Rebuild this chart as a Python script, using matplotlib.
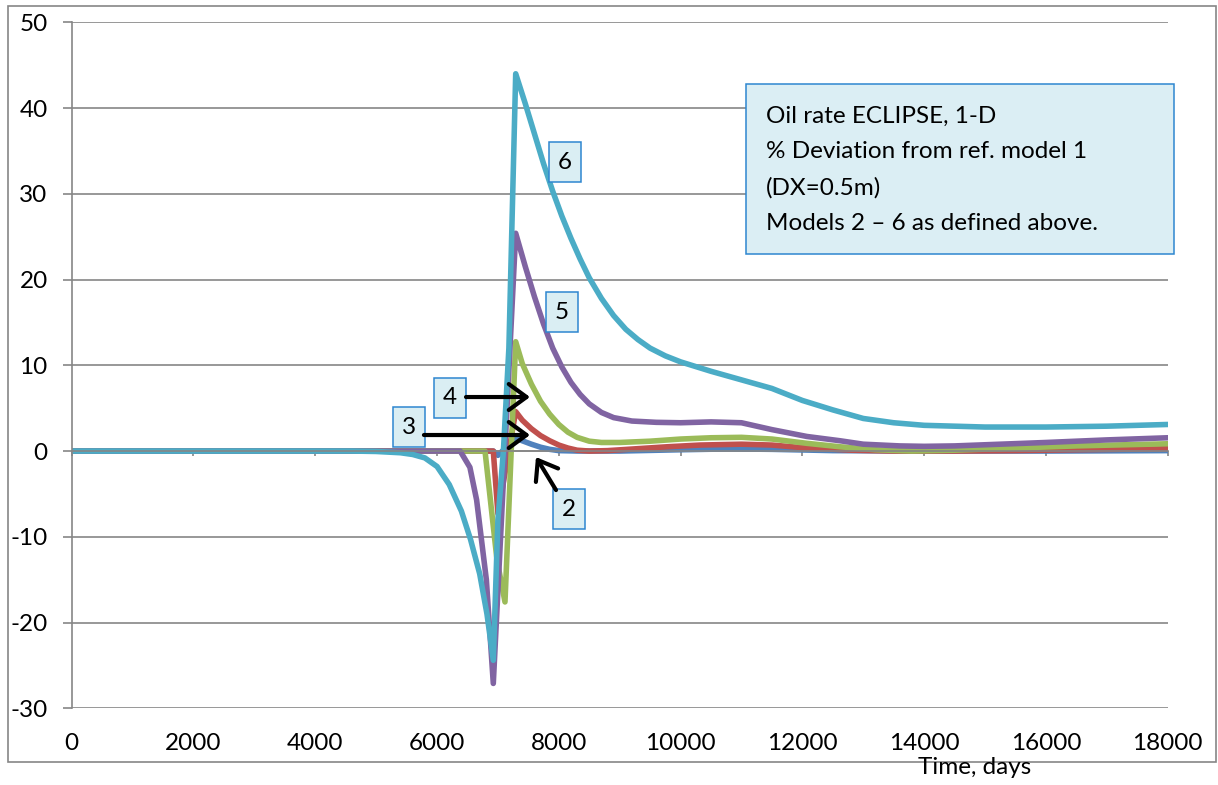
import numpy as np
import matplotlib
matplotlib.use("Agg")
import matplotlib.pyplot as plt
from matplotlib.patches import Rectangle

plt.rcParams['font.family'] = ['Lato', 'DejaVu Sans']
plt.rcParams['axes.unicode_minus'] = False

# time (days) / % deviation of oil rate for models 2..6
t2 = [0, 6924, 7000, 7292, 7400, 7550, 7700, 7850, 8000, 8300, 9000, 10000, 10800, 11500, 12500,
      14000, 16000, 18000]
m2 = [0, 0, -0.5, 1.5, 1.2, 0.8, 0.45, 0.2, 0.05, 0.0, 0.0, 0.15, 0.25, 0.2, 0.05,
      0.0, 0.0, 0.05]

t3 = [0, 6924, 7000, 7292, 7400, 7550, 7700, 7850, 8000, 8150, 8300, 8500, 8800, 9780, 10318,
      11000, 11500, 12000, 12800, 13500, 14500, 15500, 16500, 18000]
m3 = [0, 0, -7.3, 4.6, 3.6, 2.6, 1.8, 1.2, 0.7, 0.35, 0.1, 0.0, 0.05, 0.5, 0.7,
      0.8, 0.7, 0.4, 0.1, 0.0, 0.0, 0.05, 0.15, 0.27]

t4 = [0, 6788, 6985, 7116, 7292, 7400, 7550, 7700, 7850, 8000, 8150, 8300, 8500, 8700, 9000,
      9500, 10000, 10500, 11000, 11500, 12075, 12620, 13200, 13800, 14500, 15500, 16500, 18000]
m4 = [0, 0, -12.7, -17.6, 12.75, 10.2, 7.8, 5.8, 4.3, 3.1, 2.2, 1.6, 1.15, 1.0, 1.0,
      1.15, 1.4, 1.55, 1.6, 1.4, 0.9, 0.5, 0.15, 0.0, 0.1, 0.35, 0.6, 0.85]

t5 = [0, 6380, 6540, 6650, 6810, 6924, 7292, 7450, 7600, 7750, 7900, 8050, 8200, 8350, 8500,
      8700, 8900, 9200, 9600, 10000, 10500, 11000, 11500, 12075, 12620, 13000, 13600, 14000,
      14500, 15250, 16000, 17000, 18000]
m5 = [0, 0, -1.9, -5.7, -15.0, -27.1, 25.4, 21.5, 18.0, 14.8, 12.0, 9.8, 8.0, 6.6, 5.5,
      4.5, 3.9, 3.5, 3.35, 3.3, 3.4, 3.3, 2.5, 1.7, 1.2, 0.8, 0.6, 0.55,
      0.6, 0.8, 1.0, 1.3, 1.55]

t6 = [0, 4600, 5000, 5400, 5600, 5800, 6000, 6200, 6400, 6550, 6700, 6820, 6924, 7000, 7090,
      7180, 7292, 7450, 7600, 7750, 7900, 8050, 8200, 8350, 8500, 8700, 8900, 9100, 9300,
      9500, 9750, 10000, 10500, 11000, 11500, 12000, 12500, 13000, 13500, 14000, 15000,
      16000, 17000, 18000]
m6 = [0, 0, -0.05, -0.2, -0.4, -0.8, -1.8, -3.9, -7.0, -10.3, -14.3, -19.0, -24.4, -8, 0,
      12, 44.0, 40.5, 37.0, 33.5, 30.3, 27.4, 24.8, 22.4, 20.2, 17.8, 15.8, 14.2, 13.0,
      12.0, 11.1, 10.4, 9.3, 8.3, 7.3, 5.9, 4.8, 3.8, 3.3, 3.0, 2.8,
      2.8, 2.9, 3.1]

series = [(t2, m2, '#4F81BD'), (t3, m3, '#C0504D'), (t4, m4, '#9BBB59'),
          (t5, m5, '#8064A2'), (t6, m6, '#4BACC6')]

xticks = list(range(0, 18001, 2000))
yticks = list(range(-30, 51, 10))

note = ("Oil rate ECLIPSE, 1-D\n% Deviation from ref. model 1\n(DX=0.5m)\n"
        "Models 2 \u2013 6 as defined above.")

GRID = '#868686'
W, H = 1218, 785
fig = plt.figure(figsize=(W / 100, H / 100), dpi=100)
ax = fig.add_axes([71.7 / W, 1 - 708.3 / H, 1096 / W, 686 / H])

for t, m, c in series:
    ax.plot(t, m, color=c, lw=4.0, solid_joinstyle='round', solid_capstyle='round')

ax.set_xlim(0, 18000)
ax.set_ylim(-30, 50)
ax.set_axisbelow(True)
ax.grid(axis='y', color=GRID, lw=1.2)
ax.set_yticks(yticks, [str(v) for v in yticks])
ax.tick_params(axis='y', direction='out', length=6.3, width=1.2, color=GRID,
               labelsize=17.5, pad=11)

for s in ['top', 'right']:
    ax.spines[s].set_visible(False)
ax.spines['left'].set_color(GRID)
ax.spines['left'].set_linewidth(1.2)
ax.spines['bottom'].set_position(('data', 0))
ax.spines['bottom'].set_color(GRID)
ax.spines['bottom'].set_linewidth(1.2)
ax.set_xticks(xticks)
ax.tick_params(axis='x', direction='out', length=3.6, width=1.2, color=GRID,
               labelbottom=False)

sec = ax.secondary_xaxis('bottom')
sec.set_xticks(xticks, [str(v) for v in xticks])
sec.tick_params(length=0, labelsize=17.5, pad=18)
sec.spines['bottom'].set_visible(False)

# model labels
box = dict(boxstyle='square,pad=0.38', fc='#DAEEF3', ec='#2E86D0', lw=1.1)
labels = [('6', 8101, 33.7), ('5', 8052, 16.2), ('4', 6212, 6.2), ('3', 5539, 2.8),
          ('2', 8167, -6.76)]
for s, x, y in labels:
    ax.text(x, y, s, fontsize=17.5, ha='center', va='center', bbox=box, zorder=5)

# arrows from labels to curves
arrow = dict(arrowstyle='->,head_length=0.75,head_width=0.55', lw=3.0, color='black',
             shrinkA=0, shrinkB=0, mutation_scale=17)
ax.annotate('', xy=(7527, 6.3), xytext=(6476, 6.3), arrowprops=arrow, zorder=6)
ax.annotate('', xy=(7527, 1.87), xytext=(5785, 1.87), arrowprops=arrow, zorder=6)
ax.annotate('', xy=(7625, -0.7), xytext=(7954, -4.55), arrowprops=arrow, zorder=6)

# info box
fig.add_artist(Rectangle((746 / W, 1 - 254 / H), 428 / W, 170 / H, transform=fig.transFigure,
                         fc='#DBEEF4', ec='#2E86D0', lw=1.1, zorder=4))
fig.text(766 / W, 1 - 106 / H, note, fontsize=17.5, ha='left', va='top', linespacing=1.85,
         zorder=5)

# outer chart border and axis title
fig.add_artist(Rectangle((8 / W, 1 - 762 / H), 1208 / W, 756 / H, transform=fig.transFigure,
                         fill=False, ec=GRID, lw=1.2, zorder=1))
fig.text(975 / W, 1 - 774 / H, 'Time, days', fontsize=17.5, ha='center', va='baseline')

fig.savefig('out.png', dpi=100)
